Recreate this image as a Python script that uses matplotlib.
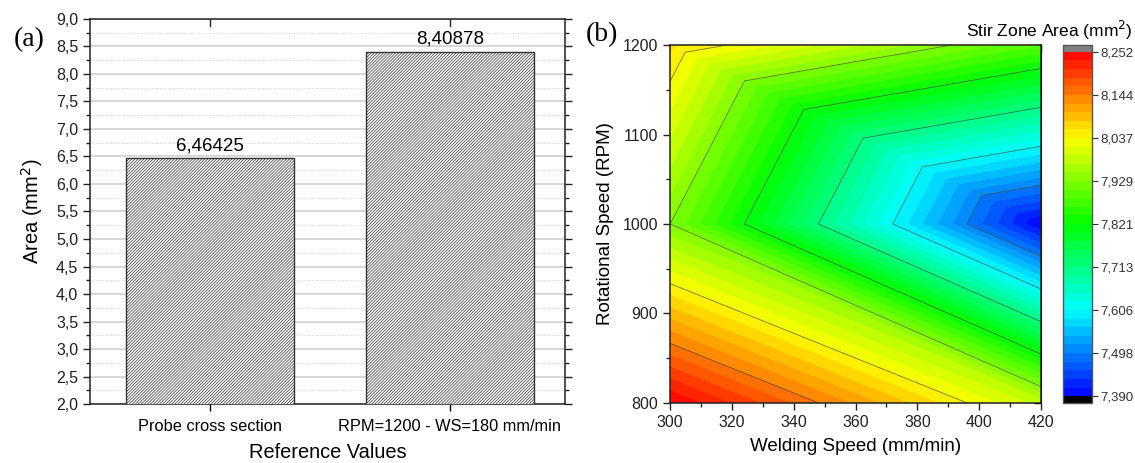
import numpy as np
import matplotlib
matplotlib.use('Agg')
import matplotlib.pyplot as plt
import matplotlib.tri as mtri
from matplotlib.colors import LinearSegmentedColormap
from matplotlib.ticker import MultipleLocator, FuncFormatter

plt.rcParams['font.family'] = ['Liberation Sans', 'DejaVu Sans']
plt.rcParams['hatch.linewidth'] = 0.5
plt.rcParams['hatch.color'] = '#666666'

# (a) reference values
categories = ['Probe cross section', 'RPM=1200 - WS=180 mm/min']
areas = [6.46425, 8.40878]
bar_labels = ['6,46425', '8,40878']

# (b) stir zone area on the welding speed / rotational speed grid
weld_speed = [300, 420, 300, 420, 300, 420]
rot_speed = [800, 800, 1000, 1000, 1200, 1200]
sz_area = [8.252, 7.983, 7.929, 7.390, 8.064, 7.886]
triangles = [[0, 1, 2], [1, 3, 2], [2, 3, 4], [4, 3, 5]]

cbar_ticks = [7.390, 7.498, 7.606, 7.713, 7.821, 7.929, 8.037, 8.144, 8.252]
cbar_ticklabels = ['7,390', '7,498', '7,606', '7,713', '7,821', '7,929', '8,037', '8,144', '8,252']

comma = FuncFormatter(lambda v, p: ('%.1f' % v).replace('.', ','))

fig = plt.figure(figsize=(11.35, 4.63), dpi=100)

# ---- panel (a)
ax1 = fig.add_axes([0.0793, 0.1274, 0.4185, 0.8316])
x = np.arange(len(categories))
bars = ax1.bar(x, areas, width=0.7, color='white', edgecolor='#333333',
               linewidth=1.0, hatch='/' * 11, zorder=3)
for b, lab in zip(bars, bar_labels):
    ax1.annotate(lab, (b.get_x() + b.get_width() / 2, b.get_height()),
                 xytext=(0, 3), textcoords='offset points',
                 ha='center', va='bottom', fontsize=13.5)
ax1.set_xlim(-0.5, 1.48)
ax1.set_ylim(2.0, 9.0)
ax1.yaxis.set_major_locator(MultipleLocator(0.5))
ax1.yaxis.set_minor_locator(MultipleLocator(0.25))
ax1.yaxis.set_major_formatter(comma)
ax1.set_xticks(x)
ax1.set_xticklabels(categories, fontsize=11.8)
ax1.tick_params(axis='y', which='both', direction='out', left=True, right=True,
                labelsize=11.5, colors='#222222')
ax1.tick_params(axis='y', which='major', length=5, width=1.0)
ax1.tick_params(axis='y', which='minor', length=3, width=1.0)
ax1.tick_params(axis='x', direction='out', length=5, width=1.0, top=False,
                labelsize=11.8, pad=6)
for xi in x:
    ax1.plot([xi, xi], [9.0, 8.88], color='#222222', lw=1.0, clip_on=False, zorder=4)
ax1.grid(True, which='major', axis='y', color='#d4d4d4', lw=1.3, zorder=0)
ax1.grid(True, which='minor', axis='y', color='#cfcfcf', lw=0.7, ls=':', zorder=0)
for s in ax1.spines.values():
    s.set_color('#222222')
    s.set_linewidth(1.1)
ax1.set_ylabel('Area (mm$^2$)', fontsize=14.5, labelpad=8)
ax1.set_xlabel('Reference Values', fontsize=14.4, labelpad=6)
fig.text(0.012, 0.915, '(a)', family='Liberation Serif', fontsize=20, va='center')

# ---- panel (b)
cmap = LinearSegmentedColormap.from_list(
    'origin_rainbow', ['#0000ff', '#00ffff', '#00ff00', '#ffff00', '#ff0000'])
cmap.set_over('#808080')
cmap.set_under('#000000')

ax2 = fig.add_axes([0.5903, 0.1296, 0.3269, 0.7732])
tri = mtri.Triangulation(weld_speed, rot_speed, triangles)
levels = np.linspace(cbar_ticks[0], cbar_ticks[-1], 41)
cf = ax2.tricontourf(tri, sz_area, levels=levels, cmap=cmap, extend='both')
ax2.tricontour(tri, sz_area, levels=levels[5:-1:5], colors='#444444',
               linewidths=0.6, alpha=0.7)
ax2.set_xlim(300, 420)
ax2.set_ylim(800, 1200)
ax2.xaxis.set_major_locator(MultipleLocator(20))
ax2.xaxis.set_minor_locator(MultipleLocator(10))
ax2.yaxis.set_major_locator(MultipleLocator(100))
ax2.yaxis.set_minor_locator(MultipleLocator(50))
ax2.tick_params(which='both', labelsize=11.5, colors='#222222', width=1.0,
                direction='out')
ax2.tick_params(which='major', length=5)
ax2.tick_params(which='minor', length=3)
sx = ax2.secondary_xaxis('top')
sx.xaxis.set_major_locator(MultipleLocator(20))
sx.xaxis.set_minor_locator(MultipleLocator(10))
sx.tick_params(which='both', direction='in', labeltop=False, width=1.0)
sx.tick_params(which='major', length=5)
sx.tick_params(which='minor', length=3)
sy = ax2.secondary_yaxis('right')
sy.yaxis.set_major_locator(MultipleLocator(100))
sy.yaxis.set_minor_locator(MultipleLocator(50))
sy.tick_params(which='both', direction='in', labelright=False, width=1.0)
sy.tick_params(which='major', length=5)
sy.tick_params(which='minor', length=3)
for s in ax2.spines.values():
    s.set_color('#222222')
    s.set_linewidth(1.1)
ax2.set_xlabel('Welding Speed (mm/min)', fontsize=13.5, labelpad=6)
ax2.set_ylabel('Rotational Speed (RPM)', fontsize=13.5, labelpad=6)
fig.text(0.516, 0.925, '(b)', family='Liberation Serif', fontsize=20, va='center')

cax = fig.add_axes([0.9366, 0.1296, 0.0256, 0.7732])
cb = fig.colorbar(cf, cax=cax, extend='both', extendrect=True, extendfrac=0.02,
                  ticks=cbar_ticks)
cb.ax.set_yticklabels(cbar_ticklabels)
cb.ax.tick_params(labelsize=9.5, length=4, width=0.8, pad=2, colors='#333333')
cb.outline.set_edgecolor('#555555')
cb.outline.set_linewidth(1.0)
fig.text(0.998, 0.935, 'Stir Zone Area (mm$^2$)', ha='right', va='center', fontsize=12.5)

fig.savefig('out.png', dpi=100)
